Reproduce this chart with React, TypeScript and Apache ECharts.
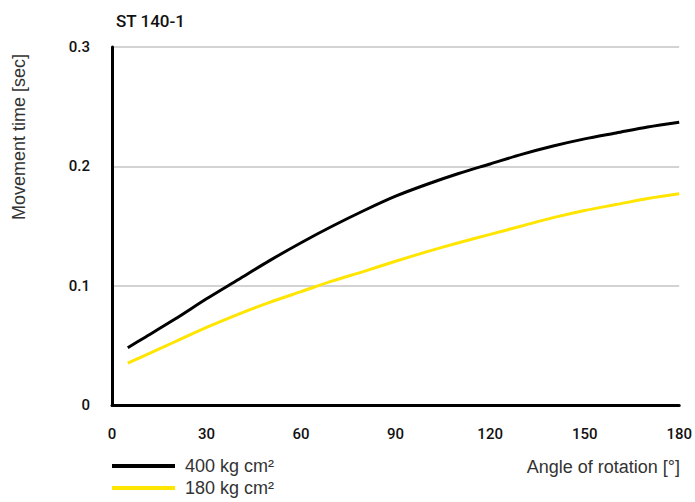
import React, { useEffect, useRef } from "react";
import * as echarts from "echarts";

const angles = [5, 10, 20, 30, 40, 50, 60, 70, 80, 90, 100, 110, 120, 130, 140, 150, 160, 170, 180];
const time400 = [0.048, 0.056, 0.072, 0.089, 0.105, 0.121, 0.136, 0.150, 0.163, 0.175, 0.185, 0.194, 0.202, 0.210, 0.217, 0.223, 0.228, 0.233, 0.237];
const time180 = [0.035, 0.041, 0.053, 0.065, 0.076, 0.086, 0.095, 0.104, 0.112, 0.1205, 0.1285, 0.136, 0.143, 0.150, 0.157, 0.163, 0.168, 0.173, 0.177];
const seriesNames = ["400 kg cm²", "180 kg cm²"];
const xTicks = { min: 0, max: 180, interval: 30 };
const yTicks = { min: 0, max: 0.3, interval: 0.1 };

export default function App() {
  const ref = useRef<HTMLDivElement>(null);
  useEffect(() => {
    if (!ref.current) return;
    const chart = echarts.init(ref.current, null, { renderer: "svg" });
    const tickFont = { fontFamily: "Roboto", fontSize: 15, fontWeight: 500, color: "#111" };
    const legendBase = {
      orient: "horizontal",
      left: 112,
      padding: 0,
      icon: "rect",
      itemWidth: 63,
      itemHeight: 4,
      textStyle: {
        fontFamily: "Liberation Sans",
        fontSize: 18,
        color: "#333",
        lineHeight: 20,
        padding: [0, 0, 0, 5],
      },
    };
    chart.setOption({
      animation: false,
      backgroundColor: "#fff",
      grid: { left: 112, right: 13, top: 47, bottom: 97 },
      title: {
        text: "ST 140-1",
        left: 111,
        top: 7,
        textStyle: { fontFamily: "Roboto", fontSize: 17, fontWeight: 500, color: "#111" },
      },
      legend: [
        { ...legendBase, top: 456, data: [seriesNames[0]] },
        { ...legendBase, top: 478, data: [seriesNames[1]] },
      ],
      xAxis: {
        type: "value",
        min: xTicks.min,
        max: xTicks.max,
        interval: xTicks.interval,
        axisLine: { show: true, onZero: false, lineStyle: { color: "#000", width: 3 } },
        axisTick: { show: false },
        splitLine: { show: false },
        axisLabel: { ...tickFont, margin: 21 },
      },
      yAxis: {
        type: "value",
        min: yTicks.min,
        max: yTicks.max,
        interval: yTicks.interval,
        axisLine: { show: true, lineStyle: { color: "#000", width: 3 } },
        axisTick: { show: false },
        splitLine: { show: true, lineStyle: { color: "#c4c4c4", width: 1.5 } },
        axisLabel: { ...tickFont, margin: 22 },
      },
      graphic: [
        {
          type: "text",
          x: 19,
          y: 137,
          rotation: Math.PI / 2,
          style: {
            text: "Movement time [sec]",
            fontFamily: "Liberation Sans",
            fontSize: 18,
            fill: "#333",
            align: "center",
            verticalAlign: "middle",
          },
        },
        {
          type: "text",
          x: 680,
          y: 467,
          style: {
            text: "Angle of rotation [°]",
            fontFamily: "Liberation Sans",
            fontSize: 18,
            fill: "#333",
            align: "right",
            verticalAlign: "middle",
          },
        },
      ],
      series: [
        {
          name: seriesNames[0],
          type: "line",
          data: angles.map((a, i) => [a, time400[i]]),
          smooth: 0.3,
          showSymbol: false,
          lineStyle: { color: "#000", width: 3 },
          itemStyle: { color: "#000" },
        },
        {
          name: seriesNames[1],
          type: "line",
          data: angles.map((a, i) => [a, time180[i]]),
          smooth: 0.3,
          showSymbol: false,
          lineStyle: { color: "#FFE500", width: 3 },
          itemStyle: { color: "#FFE500" },
        },
      ],
    });
    return () => chart.dispose();
  }, []);
  return <div ref={ref} style={{ width: 695, height: 502, position: "absolute", left: 0, top: 0 }} />;
}
